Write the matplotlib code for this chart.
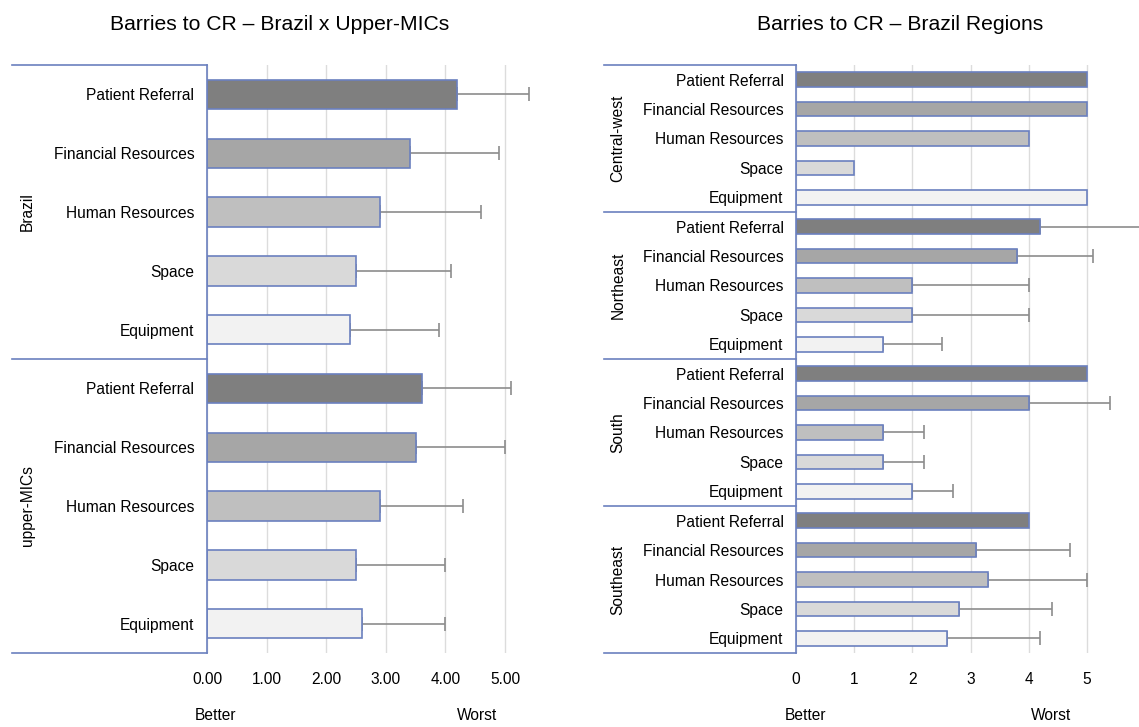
import matplotlib
matplotlib.use("Agg")
import matplotlib.pyplot as plt
import numpy as np
from matplotlib.transforms import blended_transform_factory

plt.rcParams['font.family'] = ['Liberation Sans', 'DejaVu Sans']

barriers = ["Patient Referral", "Financial Resources", "Human Resources", "Space", "Equipment"]
colors = ["#7f7f7f", "#a6a6a6", "#bfbfbf", "#d9d9d9", "#f2f2f2"]

# Left panel: Brazil x Upper-MICs
left_groups = ["Brazil", "upper-MICs"]
brazil_mean = [4.2, 3.4, 2.9, 2.5, 2.4]
brazil_err = [1.2, 1.5, 1.7, 1.6, 1.5]
umic_mean = [3.6, 3.5, 2.9, 2.5, 2.6]
umic_err = [1.5, 1.5, 1.4, 1.5, 1.4]
left_ticks = ["0.00", "1.00", "2.00", "3.00", "4.00", "5.00"]

# Right panel: Brazil regions
right_groups = ["Central-west", "Northeast", "South", "Southeast"]
cw_mean = [5, 5, 4, 1, 5]
cw_err = [0, 0, 0, 0, 0]
ne_mean = [4.2, 3.8, 2.0, 2.0, 1.5]
ne_err = [1.8, 1.3, 2.0, 2.0, 1.0]
s_mean = [5, 4.0, 1.5, 1.5, 2.0]
s_err = [0, 1.4, 0.7, 0.7, 0.7]
se_mean = [4.0, 3.1, 3.3, 2.8, 2.6]
se_err = [0, 1.6, 1.7, 1.6, 1.6]
right_ticks = ["0", "1", "2", "3", "4", "5"]

W, H = 1139, 727
fig = plt.figure(figsize=(W / 100, H / 100), dpi=100)

EDGE = "#6b80bf"
ERRC = "#8c8c8c"
GRID = "#dcdcdc"
FS = 11.2


def fx(px):
    return px / W


def fy(py):
    return 1 - py / H


def panel(ax_left_px, unit_px, sep_left_px, groups, means, errs, ticklabels, title, title_x, lab_x,
          better_x, worst_x):
    xmax = 5.6
    ax = fig.add_axes([fx(ax_left_px), fy(653), fx(unit_px * xmax), (653 - 65) / H])
    n = len(groups) * len(barriers)
    labels = []
    vals = []
    ers = []
    cols = []
    for g, m, e in zip(groups, means, errs):
        labels += barriers
        vals += list(m)
        ers += list(e)
        cols += colors
    y = np.arange(n)
    ax.barh(y, vals, height=0.5, color=cols, edgecolor=EDGE, linewidth=1.2, zorder=3)
    idx = [i for i in range(n) if ers[i] > 0]
    ax.errorbar([vals[i] for i in idx], [y[i] for i in idx],
                xerr=[[0] * len(idx), [ers[i] for i in idx]],
                fmt="none", ecolor=ERRC, elinewidth=1.2, capsize=5, capthick=1.2,
                zorder=2, clip_on=False)
    ax.set_ylim(n - 0.5, -0.5)
    ax.set_xlim(0, xmax)
    ax.set_yticks(y)
    ax.set_yticklabels(labels, fontsize=FS)
    ax.set_xticks(range(6))
    ax.set_xticklabels(ticklabels, fontsize=FS)
    ax.tick_params(axis="both", length=0)
    ax.tick_params(axis="y", pad=9)
    ax.tick_params(axis="x", pad=14)
    for s in ["top", "right", "bottom"]:
        ax.spines[s].set_visible(False)
    ax.spines["left"].set_color(EDGE)
    ax.spines["left"].set_linewidth(1.2)
    ax.spines["left"].set_zorder(4)
    ax.xaxis.grid(True, color=GRID, linewidth=1.0, zorder=0)
    ax.set_axisbelow(True)
    # group separators
    tr = blended_transform_factory(fig.transFigure, ax.transData)
    per = len(barriers)
    for k in range(len(groups) + 1):
        yy = k * per - 0.5
        ax.plot([fx(sep_left_px), fx(ax_left_px)], [yy, yy], color=EDGE, linewidth=1.2,
                transform=tr, clip_on=False, zorder=4)
    for k, g in enumerate(groups):
        yc = k * per + (per - 1) / 2
        ax.text(fx(lab_x), yc, g, transform=tr, rotation=90, ha="center", va="center", fontsize=FS)
    fig.text(fx(title_x), fy(24), title, ha="center", va="center", fontsize=15.2)
    fig.text(fx(better_x), fy(715), "Better", ha="center", va="center", fontsize=FS)
    fig.text(fx(worst_x), fy(715), "Worst", ha="center", va="center", fontsize=FS)
    return ax


panel(207, 59.6, 12, left_groups, [brazil_mean, umic_mean], [brazil_err, umic_err],
      left_ticks, "Barries to CR \u2013 Brazil x Upper-MICs", 280, 27, 215, 477)
panel(796, 58.2, 604, right_groups, [cw_mean, ne_mean, s_mean, se_mean],
      [cw_err, ne_err, s_err, se_err], right_ticks, "Barries to CR \u2013 Brazil Regions",
      900, 618, 805, 1051)

fig.savefig("out.png", dpi=100)
